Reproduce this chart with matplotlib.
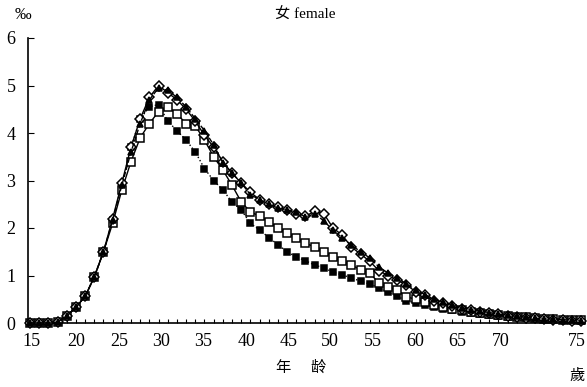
import matplotlib
matplotlib.use("Agg")
import matplotlib.pyplot as plt
import numpy as np

plt.rcParams['font.family'] = ['Liberation Serif', 'Noto Sans CJK TC', 'DejaVu Sans']

ages = list(range(15, 76))

# filled squares
s_filled = [0, 0, 0, 0.02, 0.15, 0.33, 0.56, 0.97, 1.5, 2.17, 2.9, 3.7, 4.3, 4.55, 4.6, 4.25,
            4.05, 3.85, 3.6, 3.25, 3.0, 2.8, 2.55, 2.38, 2.1, 1.96, 1.8, 1.65, 1.5, 1.39,
            1.31, 1.22, 1.16, 1.07, 1.01, 0.95, 0.88, 0.82, 0.74, 0.65, 0.56, 0.47, 0.42,
            0.38, 0.34, 0.3, 0.27, 0.24, 0.21, 0.19, 0.17, 0.15, 0.13, 0.12, 0.11, 0.1,
            0.09, 0.08, 0.07, 0.06, 0.05]
# open squares
s_open = [0, 0, 0, 0.02, 0.15, 0.33, 0.56, 0.97, 1.5, 2.1, 2.8, 3.4, 3.9, 4.2, 4.45, 4.55,
          4.4, 4.2, 4.15, 3.85, 3.5, 3.22, 2.9, 2.55, 2.34, 2.25, 2.13, 2.0, 1.89, 1.79,
          1.68, 1.6, 1.5, 1.39, 1.3, 1.22, 1.12, 1.05, 0.84, 0.76, 0.69, 0.55, 0.5, 0.45,
          0.38, 0.34, 0.3, 0.27, 0.24, 0.21, 0.19, 0.17, 0.15, 0.13, 0.12, 0.1, 0.09,
          0.08, 0.07, 0.06, 0.06]
# open diamonds
s_diamond = [0, 0, 0, 0.02, 0.15, 0.33, 0.56, 0.97, 1.5, 2.2, 2.95, 3.7, 4.3, 4.75, 5.0,
             4.85, 4.7, 4.5, 4.25, 3.95, 3.7, 3.4, 3.15, 2.95, 2.75, 2.6, 2.5, 2.45, 2.38,
             2.3, 2.25, 2.35, 2.3, 2.0, 1.85, 1.6, 1.45, 1.3, 1.1, 1.0, 0.9, 0.8, 0.66,
             0.58, 0.46, 0.42, 0.36, 0.3, 0.27, 0.24, 0.21, 0.18, 0.15, 0.13, 0.11, 0.1,
             0.08, 0.07, 0.06, 0.05, 0.05]
# filled triangles
s_triangle = [0, 0, 0, 0.02, 0.15, 0.33, 0.56, 0.97, 1.5, 2.17, 2.9, 3.6, 4.2, 4.7, 4.95,
              4.9, 4.75, 4.55, 4.3, 4.05, 3.75, 3.37, 3.16, 2.95, 2.7, 2.6, 2.5, 2.42,
              2.38, 2.34, 2.23, 2.3, 2.15, 1.95, 1.8, 1.64, 1.5, 1.37, 1.18, 1.05, 0.95,
              0.82, 0.7, 0.6, 0.5, 0.44, 0.38, 0.32, 0.28, 0.25, 0.22, 0.19, 0.16, 0.14,
              0.12, 0.1, 0.09, 0.08, 0.07, 0.06, 0.05]

y_ticks = [0, 1, 2, 3, 4, 5, 6]
x_labels = ["15", "20", "25", "30", "35", "40", "45", "50", "55", "60", "65", "70", "75"]
x_label_pos = [15.2, 20.0, 24.7, 29.3, 33.8, 38.6, 43.2, 47.7, 52.3, 56.9, 61.5, 66.3, 74.6]

W, H = 587, 387
fig = plt.figure(figsize=(W / 100, H / 100), dpi=100)
ax = fig.add_axes([28 / W, 64 / H, (585 - 28) / W, (349 - 64) / H])
ax.set_xlim(14.78, 75.44)
ax.set_ylim(0, 6)

kw = dict(color='black', clip_on=False, markeredgewidth=1.1)
ax.plot(ages, s_filled, linestyle=':', linewidth=1.0, marker='s', markersize=5,
        markerfacecolor='black', **kw)
ax.plot(ages, s_open, linestyle='-', linewidth=1.0, marker='s', markersize=6,
        markerfacecolor='white', **kw)
ax.plot(ages, s_diamond, linestyle='-', linewidth=1.0, marker='D', markersize=5,
        markerfacecolor='white', **kw)
ax.plot(ages, s_triangle, linestyle='--', linewidth=1.0, marker='^', markersize=5,
        markerfacecolor='black', **kw)

for sp in ['top', 'right']:
    ax.spines[sp].set_visible(False)
for sp in ['left', 'bottom']:
    ax.spines[sp].set_linewidth(1.2)

ax.set_yticks(y_ticks)
ax.set_yticklabels([str(v) for v in y_ticks], fontsize=13)
ax.tick_params(axis='y', direction='in', length=4, pad=9)
ax.set_xticks(ages)
ax.set_xticklabels([])
ax.tick_params(axis='x', direction='in', length=3)

for lab, pos in zip(x_labels, x_label_pos):
    ax.text(pos, -0.035, lab, transform=ax.get_xaxis_transform(), ha='center', va='top',
            fontsize=13)

fig.text(15 / W, 1 - 15 / H, '‰', fontsize=12, ha='left', va='center')
fig.text(305 / W, 1 - 15 / H, '女 female', fontsize=11, ha='center', va='center')
fig.text(283 / W, 1 - 368 / H, '年', fontsize=11, ha='center', va='center')
fig.text(318 / W, 1 - 368 / H, '龄', fontsize=11, ha='center', va='center')
fig.text(577 / W, 1 - 376 / H, '歲', fontsize=11, ha='center', va='center')

fig.savefig('out.png', dpi=100)
